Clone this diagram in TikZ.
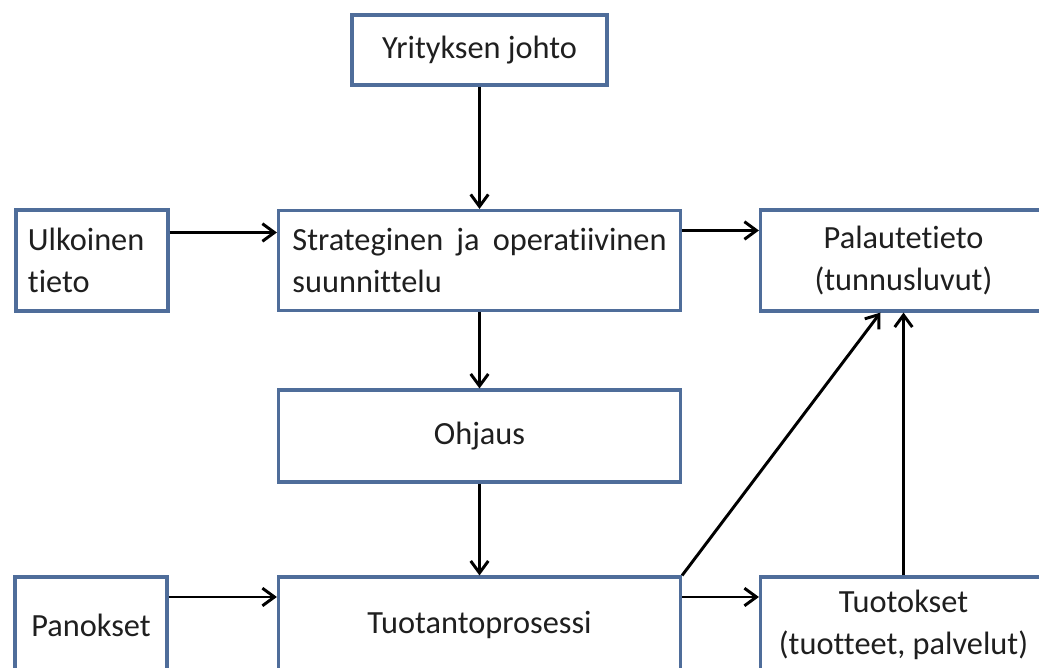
\documentclass[tikz,border=0pt]{standalone}
\usepackage{fontspec}
\setmainfont{Carlito}[Ligatures=NoCommon]
\usetikzlibrary{arrows.meta}
\usetikzlibrary{shadows}
\definecolor{boxblue}{HTML}{4F6D9A}
\tikzset{
  block/.style={draw=boxblue, line width=2.2pt, fill=white, inner sep=0pt,
    font=\fontsize{23}{30}\selectfont, text=black!88,
    drop shadow={shadow xshift=1pt, shadow yshift=-1pt, fill=black!30, opacity=0.5}},
  arrow/.style={line width=2.1pt, -{Straight Barb[length=0.3cm, width=0.44cm, line width=2.1pt]}}
}
\newcommand{\blocknode}[6]{\node[block, minimum width=#3, minimum height=#4, #5] (#1) at (#2) {#6};}

\begin{document}
\begin{tikzpicture}[x=0.025cm, y=-0.025cm]
        \useasboundingbox (0,0) rectangle (1039,668);
        \clip (0,0) rectangle (1039,668);
        %nodes
        \blocknode{johto}{479.5,50}{6.375cm}{1.75cm}{align=center}{Yrityksen johto}
        \blocknode{ulko}{92,260.5}{3.8cm}{2.525cm}{text width=3.2cm, align=left}{Ulkoinen\\tieto}
        \blocknode{strat}{479.5,260.5}{10.05cm}{2.5cm}{text width=9.35cm, align=left}{Strateginen\hfill ja\hfill operatiivinen\\suunnittelu}
        \blocknode{pala}{903.5,260.5}{7.15cm}{2.525cm}{align=center}{Palautetieto\\(tunnusluvut)}
        \blocknode{ohj}{479.5,436}{10.05cm}{2.3cm}{align=center}{Ohjaus}
        \blocknode{pan}{91,625}{3.8cm}{2.4cm}{align=center}{Panokset}
        \blocknode{tuot}{479.5,625}{10.05cm}{2.4cm}{align=center}{Tuotantoprosessi}
        \blocknode{tuok}{903.5,625}{7.15cm}{2.4cm}{align=center}{Tuotokset\\(tuotteet, palvelut)}
        %edges
        \draw[arrow] (johto) -- (strat);
        \draw[arrow] ([yshift=0.7cm]ulko.east) -- ([yshift=0.7cm]strat.west);
        \draw[arrow] ([yshift=0.75cm]strat.east) -- ([yshift=0.75cm]pala.west);
        \draw[arrow] (strat) -- (ohj);
        \draw[arrow] (ohj) -- (tuot);
        \draw[arrow] ([yshift=0.7cm]pan.east) -- ([yshift=0.7cm]tuot.west);
        \draw[arrow] ([yshift=0.7cm]tuot.east) -- ([yshift=0.7cm]tuok.west);
        \draw[arrow] (tuot.north east) -- ([xshift=-0.575cm]pala.south);
        \draw[arrow] (tuok) -- (pala);
\end{tikzpicture}
\end{document}
